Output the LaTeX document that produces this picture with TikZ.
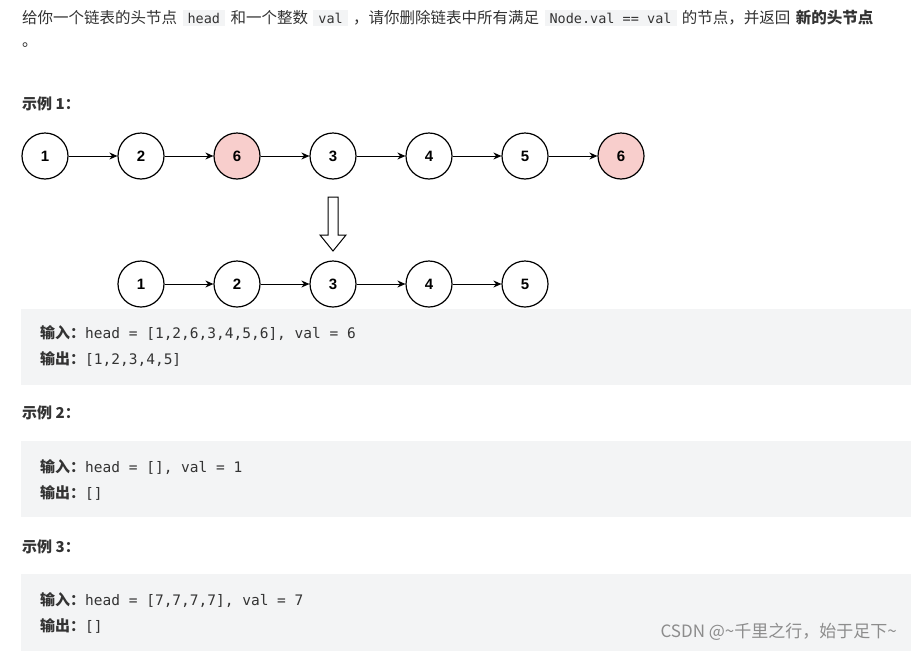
\documentclass[tikz,border=0pt]{standalone}
\usepackage{fontspec}
\setmainfont{Liberation Sans}
\newfontfamily\cjk{Noto Sans CJK SC}
\newfontfamily\mono{DejaVu Sans Mono}
\usetikzlibrary{arrows.meta}
\definecolor{codebg}{HTML}{F3F4F5}
\definecolor{pinkfill}{HTML}{F8CECC}
\definecolor{txt}{HTML}{333333}
\tikzset{
  lnode/.style={circle,draw=black,line width=1.2pt,minimum size=46pt,inner sep=0pt,font=\fontsize{15}{15}\selectfont\bfseries,fill=white},
  rnode/.style={lnode,fill=pinkfill},
  link/.style={-{Stealth[length=8pt,width=7pt]},line width=1pt},
  body/.style={anchor=west,inner sep=0pt,font=\cjk\fontsize{15.5}{15.5}\selectfont,text=txt},
  head/.style={body,font=\cjk\fontsize{15}{15}\selectfont\bfseries},
  code/.style={anchor=west,inner sep=0pt,font=\fontsize{15}{15}\selectfont,text=txt},
  icode/.style={fill=codebg,inner xsep=5pt,inner ysep=3pt,font=\mono\fontsize{13.5}{13.5}\selectfont,text=txt,anchor=west},
  codebox/.style={fill=codebg,draw=none}
}
\begin{document}
\begin{tikzpicture}[x=1pt,y=-1pt]
\useasboundingbox (0,0) rectangle (911,651);
\fill[white] (0,0) rectangle (911,651);
% intro
\node[body] (t1) at (22,18) {给你一个链表的头节点};
\node[icode] (c1) at ([xshift=5pt]t1.east) {head};
\node[body] (t2) at ([xshift=5pt]c1.east) {和一个整数};
\node[icode] (c2) at ([xshift=5pt]t2.east) {val};
\node[body] (t3) at ([xshift=5pt]c2.east) {，请你删除链表中所有满足};
\node[icode] (c3) at ([xshift=5pt]t3.east) {Node.val == val};
\node[body] (t4) at ([xshift=5pt]c3.east) {的节点，并返回};
\node[head,font=\cjk\fontsize{15.5}{15.5}\selectfont\bfseries] (t5) at ([xshift=5pt]t4.east) {新的头节点};
\node[body] (t6) at (22,45) {。};
% example 1
\node[head] (h1) at (22,104) {示例 1：};
\foreach \n/\x/\s/\l in {a1/45/lnode/1,a2/141/lnode/2,a3/237/rnode/6,a4/333/lnode/3,a5/429/lnode/4,a6/525/lnode/5,a7/621/rnode/6}
  \node[\s] (\n) at (\x,156) {\l};
\foreach \a/\b in {a1/a2,a2/a3,a3/a4,a4/a5,a5/a6,a6/a7} \draw[link] (\a) -- (\b);
% hollow arrow
\draw[line width=1pt,fill=white] (328,197) -- (338,197) -- (338,235) -- (346,235) -- (333,251) -- (320,235) -- (328,235) -- cycle;
\foreach \n/\x/\l in {b1/141/1,b2/237/2,b3/333/3,b4/429/4,b5/525/5}
  \node[lnode] (\n) at (\x,284) {\l};
\foreach \a/\b in {b1/b2,b2/b3,b3/b4,b4/b5} \draw[link] (\a) -- (\b);
% boxes
\fill[codebox] (21,309) rectangle (911,385);
\node[code] (i1) at (40,333) {{\cjk\bfseries 输入：}{\mono\fontsize{14.5}{14.5}\selectfont head = [1,2,6,3,4,5,6], val = 6}};
\node[code] (o1) at (40,359) {{\cjk\bfseries 输出：}{\mono\fontsize{14.5}{14.5}\selectfont [1,2,3,4,5]}};
\node[head] (h2) at (22,413) {示例 2：};
\fill[codebox] (21,441) rectangle (911,517);
\node[code] (i2) at (40,467) {{\cjk\bfseries 输入：}{\mono\fontsize{14.5}{14.5}\selectfont head = [], val = 1}};
\node[code] (o2) at (40,493) {{\cjk\bfseries 输出：}{\mono\fontsize{14.5}{14.5}\selectfont []}};
\node[head] (h3) at (22,547) {示例 3：};
\fill[codebox] (21,574) rectangle (911,651);
\node[code] (i3) at (40,600) {{\cjk\bfseries 输入：}{\mono\fontsize{14.5}{14.5}\selectfont head = [7,7,7,7], val = 7}};
\node[code] (o3) at (40,626) {{\cjk\bfseries 输出：}{\mono\fontsize{14.5}{14.5}\selectfont []}};
\node[anchor=east,inner sep=0pt,font=\cjk\fontsize{17}{17}\selectfont,text=black!45] (wm) at (897,632) {CSDN @\textasciitilde 千里之行，始于足下\textasciitilde};
\end{tikzpicture}
\end{document}
